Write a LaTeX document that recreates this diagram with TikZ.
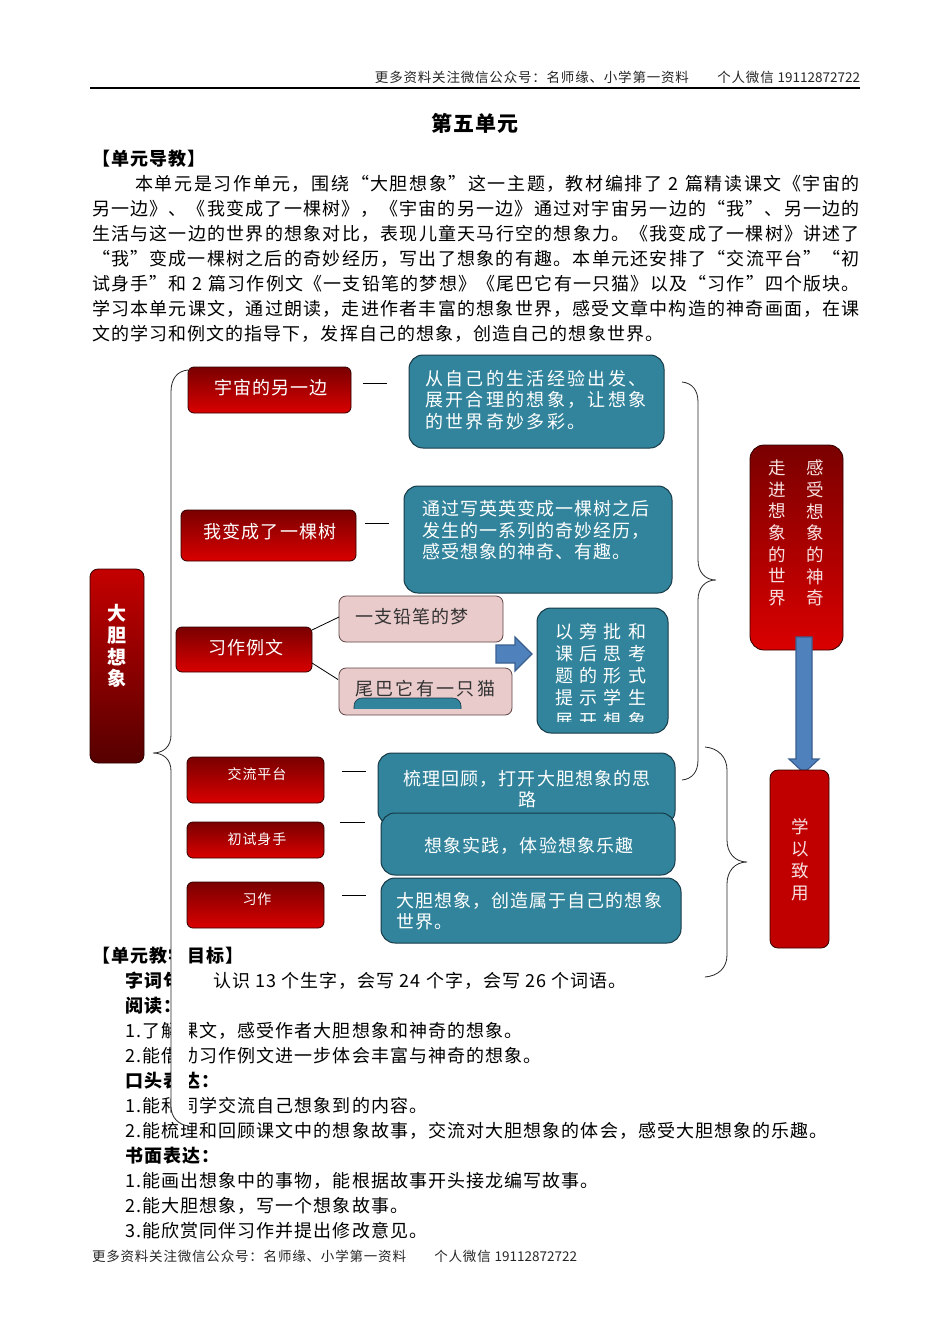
\documentclass[tikz,border=0pt]{standalone}
\usepackage{fontspec}
\setmainfont{Noto Sans CJK SC}[LetterSpace=6]
\newfontfamily\plainf{Noto Sans CJK SC}
\newfontfamily\widef{Noto Sans CJK SC}[LetterSpace=13]
\newfontfamily\widerf{Noto Sans CJK SC}[LetterSpace=36]
\XeTeXlinebreaklocale "zh"
\XeTeXlinebreakskip=0pt plus 4pt
\usetikzlibrary{calc}
\definecolor{rtop}{HTML}{7A0000}
\definecolor{rbot}{HTML}{DA0000}
\definecolor{rdark}{HTML}{2E0000}
\definecolor{btop}{HTML}{C40000}
\definecolor{bbot}{HTML}{560000}
\definecolor{solidred}{HTML}{C00000}
\definecolor{teal1}{HTML}{31849B}
\definecolor{tdark}{HTML}{173A48}
\definecolor{pink1}{HTML}{EACBCB}
\definecolor{pdark}{HTML}{5E4444}
\definecolor{blue1}{HTML}{4F81BD}
\definecolor{blue2}{HTML}{3A5F8F}
\definecolor{ztext}{HTML}{F8E0E0}
\newcommand\jline[1]{\parbox{768pt}{\parfillskip=0pt\relax #1}}
\begin{document}
\begin{tikzpicture}[x=1pt,y=-1pt,
  every node/.style={inner sep=0pt, outer sep=0pt},
  redbox/.style={draw=rdark, line width=0.8pt, rounded corners=6pt, top color=rtop, bottom color=rbot},
  tealbox/.style={draw=tdark, line width=1pt, fill=teal1, rounded corners=14pt},
  pinkbox/.style={draw=pdark, line width=0.8pt, fill=pink1, rounded corners=7pt},
  blockarrow/.style={fill=blue1, draw=blue2, line width=1.2pt, line join=miter},
  bracel/.style={draw=black!85, line width=0.8pt},
  dashl/.style={draw=black, line width=0.8pt},
  wtxt/.style={text=white, font=\fontsize{18}{21.5}\selectfont},
  smalltxt/.style={text=white, font=\fontsize{14}{16}\selectfont},
  body/.style={anchor=west, font=\fontsize{18}{20}\selectfont},
  bodyb/.style={anchor=west, font=\bfseries\fontsize{18}{20}\selectfont},
  hdr/.style={font=\fontsize{13.5}{15}\selectfont, text=black!85}
]
\useasboundingbox (0,0) rectangle (950,1344);
\fill[white] (0,0) rectangle (950,1344);

% header
\node[hdr, anchor=east] (header) at (860,77) {更多资料关注微信公众号：名师缘、小学第一资料\hspace{2.1em}个人微信 {\plainf 19112872722}};
\draw[line width=1.6pt] (90,88) -- (860,88);

% title
\node[font=\bfseries\fontsize{21}{24}\selectfont] (title) at (475,123) {第五单元};

% intro
\node[bodyb] (h1) at (92,159) {【单元导教】};
\node[body] (p1) at (92,184) {\jline{\hspace*{43pt}本单元是习作单元，围绕“大胆想象”这一主题，教材编排了 2 篇精读课文《宇宙的}};
\node[body] (p2) at (92,209) {\jline{另一边》、《我变成了一棵树》，《宇宙的另一边》通过对宇宙另一边的“我”、另一边的}};
\node[body] (p3) at (92,234) {\jline{生活与这一边的世界的想象对比，表现儿童天马行空的想象力。《我变成了一棵树》讲述了}};
\node[body] (p4) at (92,259) {\jline{“我”变成一棵树之后的奇妙经历，写出了想象的有趣。本单元还安排了“交流平台”“初}};
\node[body] (p5) at (92,284) {\jline{试身手”和 2 篇习作例文《一支铅笔的梦想》《尾巴它有一只猫》以及“习作”四个版块。}};
\node[body] (p6) at (92,309) {\jline{学习本单元课文，通过朗读，走进作者丰富的想象世界，感受文章中构造的神奇画面，在课}};
\node[body] (p7) at (92,334) {文的学习和例文的指导下，发挥自己的想象，创造自己的想象世界。};

% goals
\node[bodyb] (g0) at (92,956) {【单元教学目标】};
\node[bodyb] (g1a) at (125,981) {字词句：};
\node[body] (g1b) at (213,981) {认识 13 个生字，会写 24 个字，会写 26 个词语。};
\node[bodyb] (g2) at (125,1006) {阅读：};
\node[body] (g3) at (125,1031) {1.了解课文，感受作者大胆想象和神奇的想象。};
\node[body] (g4) at (125,1056) {2.能借助习作例文进一步体会丰富与神奇的想象。};
\node[bodyb] (g5) at (125,1081) {口头表达：};
\node[body] (g6) at (125,1106) {1.能和同学交流自己想象到的内容。};
\node[body] (g7) at (125,1131) {2.能梳理和回顾课文中的想象故事，交流对大胆想象的体会，感受大胆想象的乐趣。};
\node[bodyb] (g8) at (125,1156) {书面表达：};
\node[body] (g9) at (125,1181) {1.能画出想象中的事物，能根据故事开头接龙编写故事。};
\node[body] (g10) at (125,1206) {2.能大胆想象，写一个想象故事。};
\node[body] (g11) at (125,1231) {3.能欣赏同伴习作并提出修改意见。};

% footer
\node[hdr, anchor=west] (footer) at (92,1256) {更多资料关注微信公众号：名师缘、小学第一资料\hspace{2.1em}个人微信 {\plainf 19112872722}};

% big left brace (white filled)
\path[bracel, fill=white] (188,370) .. controls (177,371) and (171,379) .. (171,392)
  -- (171,735) .. controls (171,747) and (163,753) .. (153,753)
  .. controls (163,753) and (171,759) .. (171,771)
  -- (171,1106) .. controls (171,1118) and (179,1125) .. (189,1126);

% big left box
\node[draw=rdark, line width=0.8pt, rounded corners=8pt, top color=btop, bottom color=bbot,
  minimum width=54, minimum height=194] (big) at (117,666) {};
\node[text=white, font=\plainf\bfseries\fontsize{19}{21.7}\selectfont, align=center] (bigt) at (117,646) {大\\胆\\想\\象};

% red boxes
\node[redbox, minimum width=163, minimum height=46] (r1) at (269.5,390) {};
\node[wtxt] (r1t) at (271,388) {宇宙的另一边};
\node[redbox, minimum width=175, minimum height=51] (r2) at (268.5,535.5) {};
\node[wtxt] (r2t) at (270,532) {我变成了一棵树};
\node[redbox, minimum width=136, minimum height=45] (r3) at (244,649.5) {};
\node[wtxt] (r3t) at (246,648) {习作例文};
\node[redbox, minimum width=137, minimum height=46] (r4) at (255.5,780) {};
\node[smalltxt] (r4t) at (257,774) {交流平台};
\node[redbox, minimum width=137, minimum height=36] (r5) at (255.5,840) {};
\node[smalltxt] (r5t) at (257,839) {初试身手};
\node[redbox, minimum width=137, minimum height=46] (r6) at (255.5,905) {};
\node[smalltxt] (r6t) at (257,899) {习作};

% dashes
\draw[dashl] ($(r1.east)+(12,-7)$) -- +(24,0);
\draw[dashl] ($(r2.east)+(9,-12.5)$) -- +(24,0);
\draw[dashl] ($(r4.east)+(18,-9)$) -- +(24,0);
\draw[dashl] ($(r5.east)+(16,-18)$) -- +(25,0);
\draw[dashl] ($(r6.east)+(18,-10)$) -- +(24,0);

% teal boxes
\node[tealbox, minimum width=255, minimum height=93] (T1) at (536.5,401.5) {};
\node[wtxt, anchor=west, align=left, font=\widef\fontsize{18}{21.5}\selectfont] (T1t) at (425,400) {从自己的生活经验出发、\\展开合理的想象，让想象\\的世界奇妙多彩。};
\node[tealbox, minimum width=268, minimum height=107] (T2) at (538,539.5) {};
\node[wtxt, anchor=west, align=left] (T2t) at (422,530.5) {通过写英英变成一棵树之后\\发生的一系列的奇妙经历，\\感受想象的神奇、有趣。};

% pink boxes
\node[pinkbox, minimum width=164, minimum height=46] (P1) at (421,619) {};
\node[anchor=west, text=black!80, font=\fontsize{18}{20}\selectfont] (P1t) at (355,617) {一支铅笔的梦};
\node[pinkbox, minimum width=173, minimum height=47] (P2) at (425.5,691.5) {};
\begin{scope}
  \clip (339,668) rectangle (512,708);
  \fill[teal1, draw=tdark, line width=0.6pt, rounded corners=8pt] (354,698) rectangle (461,722);
\end{scope}
\node[anchor=west, text=black!80, font=\widef\fontsize{18}{20}\selectfont] (P2t) at (355,689) {尾巴它有一只猫};
\draw[dashl] ($(r3.north east)+(0,3)$) -- ($(P1.west)+(0,-2)$);
\draw[dashl] ($(r3.south east)+(0,-9)$) -- ($(P2.west)+(-1,-12)$);

% right block arrow
\draw[blockarrow] (496,645) -- (515,645) -- (515,637) -- (532,654) -- (515,671) -- (515,663) -- (496,663) -- cycle;

% T3
\node[tealbox, minimum width=131, minimum height=125] (T3) at (602.5,670.5) {};
\begin{scope}[every node/.append style={wtxt, anchor=west, font=\widerf\fontsize{18}{22}\selectfont}]
  \clip (537,600) rectangle (668,721);
  \node (T3a) at (555,632) {以旁批和};
  \node (T3b) at (555,654) {课后思考};
  \node (T3c) at (555,676) {题的形式};
  \node (T3d) at (555,698) {提示学生};
  \node (T3e) at (555,721) {展开想象};
\end{scope}

% T4-T6
\node[tealbox, minimum width=297, minimum height=72] (T4) at (526.5,789) {};
\node[wtxt, align=center] (T4t) at (527,789) {梳理回顾，打开大胆想象的思\\路};
\node[tealbox, minimum width=294, minimum height=62] (T5) at (528,844) {};
\node[wtxt] (T5t) at (529,846) {想象实践，体验想象乐趣};
\node[tealbox, minimum width=300, minimum height=65] (T6) at (531,910.5) {};
\node[wtxt, anchor=west, align=left] (T6t) at (396,911) {大胆想象，创造属于自己的想象\\世界。};

% right braces
\draw[bracel] (682,382) .. controls (692,383) and (698,390) .. (698,402)
  -- (698,560) .. controls (698,572) and (705,580) .. (716,580)
  .. controls (705,580) and (698,588) .. (698,600)
  -- (698,760) .. controls (698,772) and (692,779) .. (682,780);
\draw[bracel] (705,747) .. controls (718,748) and (727,757) .. (727,770)
  -- (727,840) .. controls (727,853) and (735,862) .. (747,862)
  .. controls (735,862) and (727,871) .. (727,884)
  -- (727,955) .. controls (727,968) and (718,976) .. (705,977);

% right boxes
\node[draw=rdark, line width=0.8pt, rounded corners=14pt, top color=rtop, bottom color=rbot,
  minimum width=93, minimum height=205] (zj) at (796.5,547.5) {};
\node[text=ztext, font=\plainf\fontsize{17.5}{21.67}\selectfont, align=center] (zjl) at (777,533) {走\\进\\想\\象\\的\\世\\界};
\node[text=ztext, font=\plainf\fontsize{17.5}{21.67}\selectfont, align=center] (zjr) at (815,533) {感\\受\\想\\象\\的\\神\\奇};

\draw[blockarrow] (796,637) -- (812,637) -- (812,759) -- (819,759) -- (804,773) -- (789,759) -- (796,759) -- cycle;

\node[draw=rdark, line width=0.8pt, rounded corners=8pt, fill=solidred,
  minimum width=59, minimum height=178] (xy) at (799.5,859) {};
\node[text=ztext, font=\plainf\fontsize{17.5}{22}\selectfont, align=center] (xyt) at (800,860) {学\\以\\致\\用};
\end{tikzpicture}
\end{document}
